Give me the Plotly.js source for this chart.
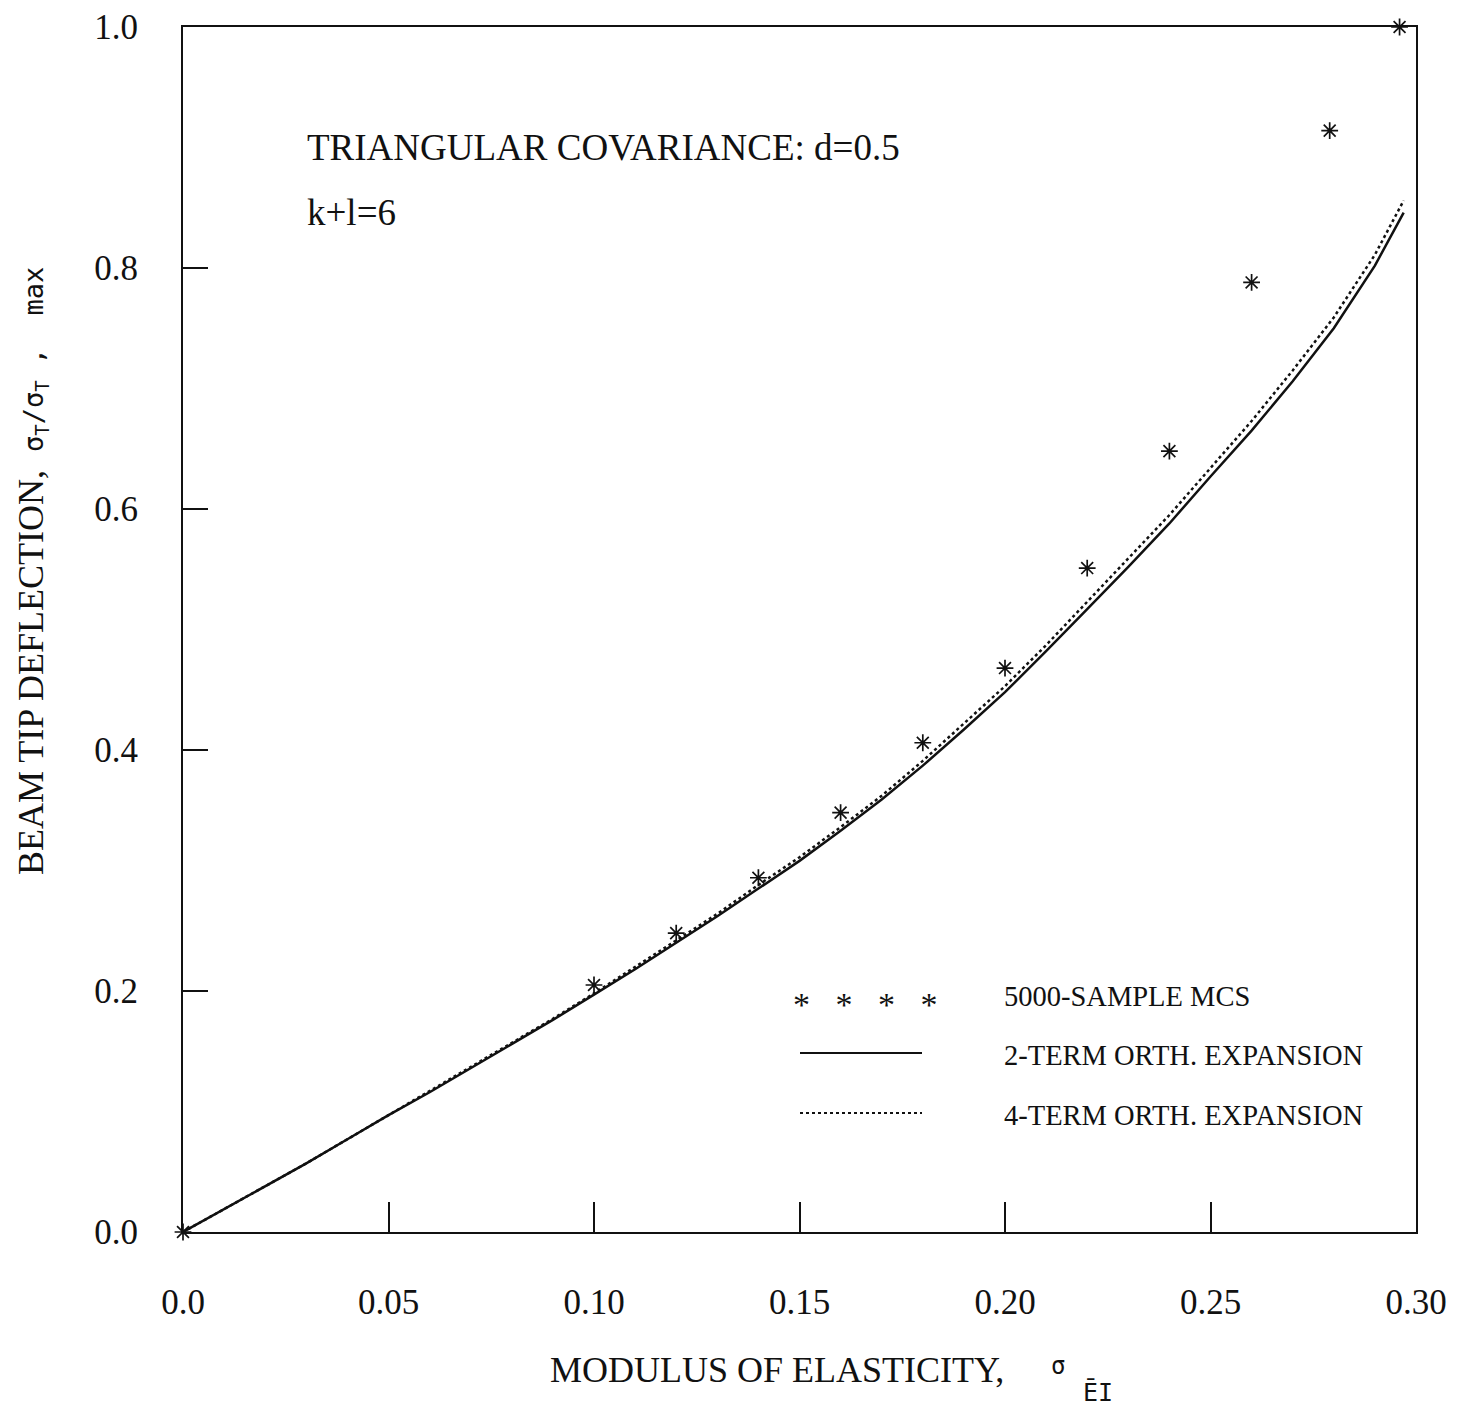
<!DOCTYPE html>
<html><head><meta charset="utf-8">
<script src="https://cdn.plot.ly/plotly-3.0.1.min.js"></script>
<style>body{margin:0;background:#fff}</style>
</head><body><div id="chart" style="width:1465px;height:1420px"></div>
<script>
// 5000-sample Monte Carlo simulation
const mcsX = [0, 0.10, 0.12, 0.14, 0.16, 0.18, 0.20, 0.22, 0.24, 0.26, 0.279, 0.296];
const mcsY = [0, 0.205, 0.248, 0.294, 0.348, 0.406, 0.468, 0.551, 0.648, 0.788, 0.914, 1.0];
// 2-term orthogonal expansion
const twoX = [0, 0.01, 0.02, 0.03, 0.04, 0.05, 0.06, 0.07, 0.08, 0.09, 0.10, 0.11, 0.12, 0.13, 0.14, 0.15, 0.16, 0.17, 0.18, 0.19, 0.20, 0.21, 0.22, 0.23, 0.24, 0.25, 0.26, 0.27, 0.28, 0.29, 0.297];
const twoY = [0, 0.019, 0.038, 0.057, 0.077, 0.097, 0.116, 0.136, 0.156, 0.176, 0.197, 0.218, 0.240, 0.262, 0.285, 0.308, 0.333, 0.359, 0.387, 0.417, 0.448, 0.482, 0.517, 0.552, 0.588, 0.627, 0.665, 0.706, 0.750, 0.802, 0.846];
// 4-term orthogonal expansion
const fourX = [0, 0.01, 0.02, 0.03, 0.04, 0.05, 0.06, 0.07, 0.08, 0.09, 0.10, 0.11, 0.12, 0.13, 0.14, 0.15, 0.16, 0.17, 0.18, 0.19, 0.20, 0.21, 0.22, 0.23, 0.24, 0.25, 0.26, 0.27, 0.28, 0.29, 0.297];
const fourY = [0, 0.019, 0.038, 0.057, 0.077, 0.097, 0.117, 0.137, 0.157, 0.177, 0.198, 0.220, 0.242, 0.264, 0.288, 0.311, 0.336, 0.362, 0.391, 0.422, 0.453, 0.487, 0.523, 0.559, 0.595, 0.634, 0.673, 0.715, 0.759, 0.811, 0.856];
// ticks
const xTickVals = [0, 0.05, 0.10, 0.15, 0.20, 0.25, 0.30];
const xTickText = ["0.0", "0.05", "0.10", "0.15", "0.20", "0.25", "0.30"];
const yTickVals = [0, 0.2, 0.4, 0.6, 0.8, 1.0];
const yTickText = ["0.0", "0.2", "0.4", "0.6", "0.8", "1.0"];
const legendLabels = ["5000-SAMPLE MCS", "2-TERM ORTH. EXPANSION", "4-TERM ORTH. EXPANSION"];

const serif = "Liberation Serif, Times New Roman, serif";
const mono = "DejaVu Sans Mono, monospace";
const ink = "#111";

const traces = [
  {x: twoX, y: twoY, mode: "lines", line: {color: ink, width: 2.5}, name: legendLabels[1]},
  {x: fourX, y: fourY, mode: "lines", line: {color: ink, width: 2.5, dash: "dot"}, name: legendLabels[2]},
  {x: mcsX, y: mcsY, mode: "markers", marker: {symbol: "asterisk-open", size: 14, color: ink, line: {color: ink, width: 1.7}}, name: legendLabels[0], cliponaxis: false}
];

const W = 1465, H = 1420, L = 183, R = 49, T = 27, B = 188;
const pw = W - L - R, ph = H - T - B;
const px = v => (v - L) / pw;          // pixel x -> paper x
const py = v => (H - B - v) / ph;      // pixel y -> paper y

const legRows = [996, 1055, 1115];
const legFont = {family: serif, size: 28.5, color: ink};
const annotations = [
  {text: "TRIANGULAR COVARIANCE: d=0.5", xref: "paper", yref: "paper", x: px(305), y: py(148), xanchor: "left", yanchor: "middle", showarrow: false, font: {family: serif, size: 37, color: ink}},
  {text: "k+l=6", xref: "paper", yref: "paper", x: px(305), y: py(212), xanchor: "left", yanchor: "middle", showarrow: false, font: {family: serif, size: 37, color: ink}},
  {text: "MODULUS OF ELASTICITY,", xref: "paper", yref: "paper", x: px(548), y: py(1370), xanchor: "left", yanchor: "middle", showarrow: false, font: {family: serif, size: 36, color: ink}},
  {text: "σ", xref: "paper", yref: "paper", x: px(1058), y: py(1366), xanchor: "center", yanchor: "middle", showarrow: false, font: {family: mono, size: 24, color: ink}},
  {text: "ĒI", xref: "paper", yref: "paper", x: px(1098), y: py(1392), xanchor: "center", yanchor: "middle", showarrow: false, font: {family: mono, size: 25, color: ink}},
  {text: "BEAM TIP DEFLECTION,  <span style='font-family:DejaVu Sans Mono;font-size:27px'>σ<sub>T</sub>/σ<sub>T</sub> ,  max</span>", xref: "paper", yref: "paper", x: px(32), y: py(571), xanchor: "center", yanchor: "middle", textangle: -90, showarrow: false, font: {family: serif, size: 36, color: ink}},
  {text: "*&nbsp;&nbsp;&nbsp;*&nbsp;&nbsp;&nbsp;*&nbsp;&nbsp;&nbsp;*", xref: "paper", yref: "paper", x: px(791), y: py(legRows[0] + 8), xanchor: "left", yanchor: "middle", showarrow: false, font: {family: serif, size: 34, color: ink}},
  {text: legendLabels[0], xref: "paper", yref: "paper", x: px(1002), y: py(legRows[0]), xanchor: "left", yanchor: "middle", showarrow: false, font: legFont},
  {text: legendLabels[1], xref: "paper", yref: "paper", x: px(1002), y: py(legRows[1]), xanchor: "left", yanchor: "middle", showarrow: false, font: legFont},
  {text: legendLabels[2], xref: "paper", yref: "paper", x: px(1002), y: py(legRows[2]), xanchor: "left", yanchor: "middle", showarrow: false, font: legFont}
];
const shapes = [
  {type: "line", xref: "paper", yref: "paper", x0: px(800), x1: px(922), y0: py(1053), y1: py(1053), line: {color: ink, width: 2.2}},
  {type: "line", xref: "paper", yref: "paper", x0: px(800), x1: px(922), y0: py(1113), y1: py(1113), line: {color: ink, width: 2.2, dash: "dot"}}
];

const axisCommon = {
  showgrid: false, zeroline: false, showline: true, mirror: true,
  linecolor: ink, linewidth: 2, ticks: "inside", tickcolor: ink, tickwidth: 2,
  tickfont: {family: serif, size: 35, color: ink}
};

const layout = {
  width: W, height: H,
  margin: {l: L, r: R, t: T, b: B},
  paper_bgcolor: "#fff", plot_bgcolor: "#fff",
  showlegend: false,
  xaxis: Object.assign({}, axisCommon, {range: [0, 0.30], tickmode: "array", tickvals: xTickVals, ticktext: xTickText, ticklen: 30, ticklabelstandoff: 38}),
  yaxis: Object.assign({}, axisCommon, {range: [0, 1.0], tickmode: "array", tickvals: yTickVals, ticktext: yTickText, ticklen: 25, ticklabelstandoff: 36}),
  annotations: annotations,
  shapes: shapes
};

Plotly.newPlot("chart", traces, layout, {displayModeBar: false, staticPlot: true});
</script>
</body></html>
